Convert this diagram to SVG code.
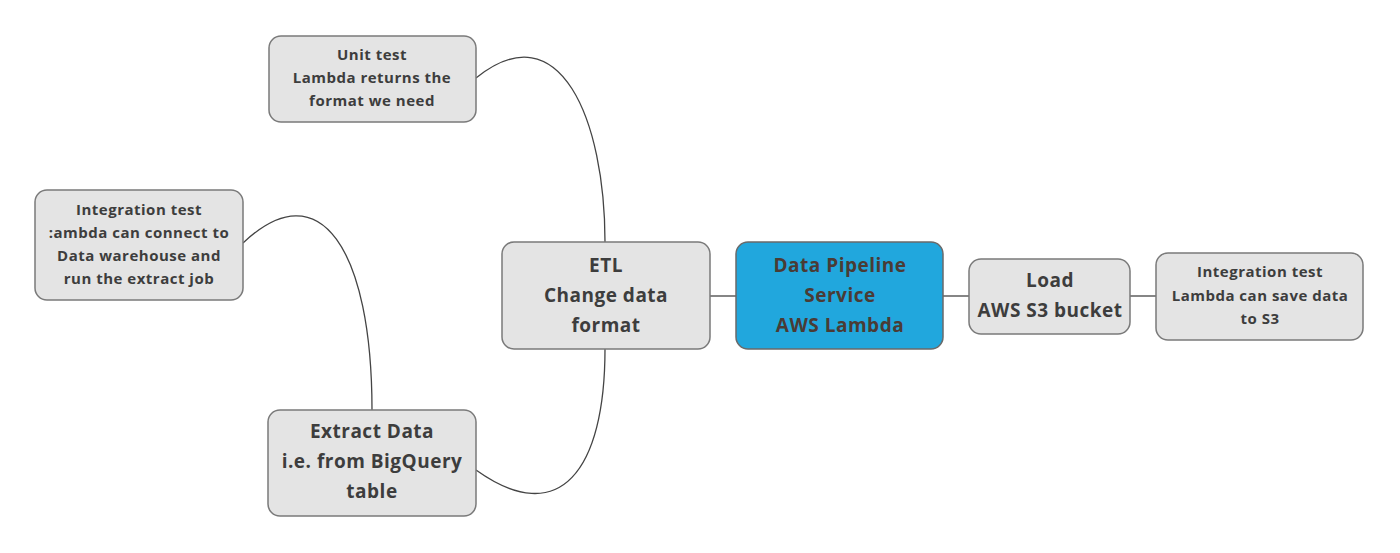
<svg xmlns="http://www.w3.org/2000/svg" width="1400" height="553" viewBox="0 0 1400 553">
<style>
.n{fill:#e4e4e4;stroke:#7a7a7a;stroke-width:1.5}
.c{fill:none;stroke:#444;stroke-width:1.3}
text{font-family:"Open Sans","DejaVu Sans",sans-serif;font-weight:700;fill:#3d3d3d;text-anchor:middle;letter-spacing:0.5px}
.s{font-size:15px}
.l{font-size:19px}
</style>
<rect width="1400" height="553" fill="#fff"/>
<g id="connectors">
<path class="c" d="M476 78 C560 10 605 120 605 242"/>
<path class="c" d="M605 349 C605 470 560 530 476 470"/>
<path class="c" d="M372 410 C372 250 320 170 243 243"/>
<line class="c" x1="710" y1="296" x2="736" y2="296"/>
<line class="c" x1="943" y1="296" x2="969" y2="296"/>
<line class="c" x1="1130" y1="296" x2="1156" y2="296"/>
</g>
<g id="unit">
<rect class="n" x="269" y="36" width="207" height="86" rx="12"/>
<text class="s" x="372" y="60">Unit test</text>
<text class="s" x="372" y="83">Lambda returns the</text>
<text class="s" x="372" y="106">format we need</text>
</g>
<g id="intleft">
<rect class="n" x="35" y="190" width="208" height="110" rx="12"/>
<text class="s" x="139" y="215">Integration test</text>
<text class="s" x="139" y="238">:ambda can connect to</text>
<text class="s" x="139" y="261">Data warehouse and</text>
<text class="s" x="139" y="284">run the extract job</text>
</g>
<g id="etl">
<rect class="n" x="502" y="242" width="208" height="107" rx="12"/>
<text class="l" x="606" y="272">ETL</text>
<text class="l" x="606" y="302">Change data</text>
<text class="l" x="606" y="332">format</text>
</g>
<g id="dp">
<rect x="736" y="242" width="207" height="107" rx="12" fill="#21a7dd" stroke="#6a6a6a" stroke-width="1.5"/>
<text class="l" x="840" y="272" style="fill:#4a3b35">Data Pipeline</text>
<text class="l" x="840" y="302" style="fill:#4a3b35">Service</text>
<text class="l" x="840" y="332" style="fill:#4a3b35">AWS Lambda</text>
</g>
<g id="load">
<rect class="n" x="969" y="259" width="161" height="75" rx="12"/>
<text class="l" x="1050" y="287">Load</text>
<text class="l" x="1050" y="317">AWS S3 bucket</text>
</g>
<g id="intright">
<rect class="n" x="1156" y="253" width="207" height="87" rx="12"/>
<text class="s" x="1260" y="277">Integration test</text>
<text class="s" x="1260" y="301">Lambda can save data</text>
<text class="s" x="1260" y="324">to S3</text>
</g>
<g id="extract">
<rect class="n" x="268" y="410" width="208" height="106" rx="12"/>
<text class="l" x="372" y="438">Extract Data</text>
<text class="l" x="372" y="468">i.e. from BigQuery</text>
<text class="l" x="372" y="498">table</text>
</g>
</svg>
